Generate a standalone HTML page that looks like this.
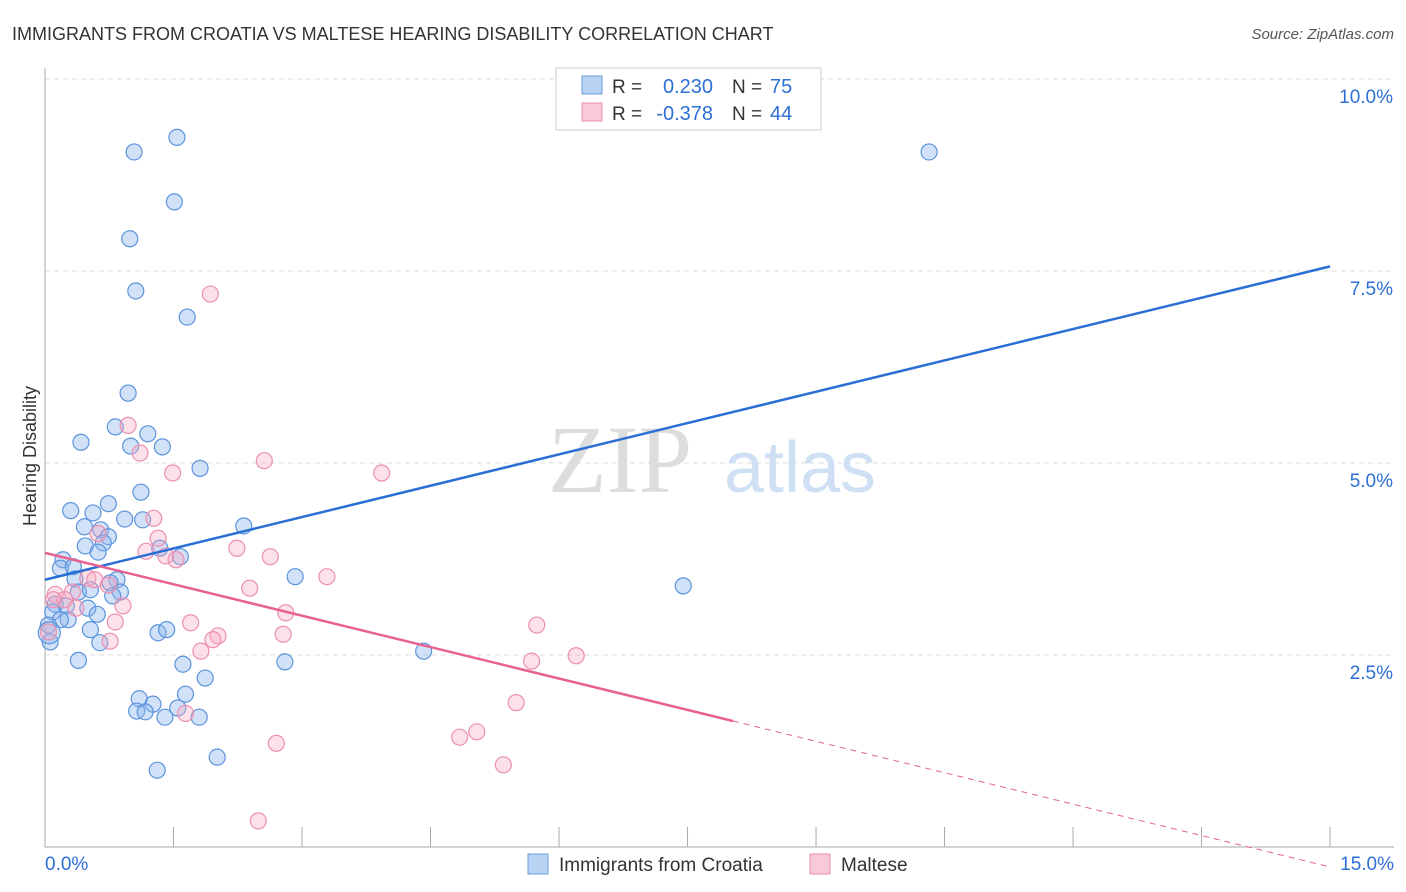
<!DOCTYPE html>
<html><head><meta charset="utf-8"><style>
body{margin:0;background:#fff;font-family:"Liberation Sans",sans-serif}
svg{display:block}
</style></head><body>
<svg id="c" width="1406" height="892" xmlns="http://www.w3.org/2000/svg">
<text x="12" y="40" font-size="18" fill="#333">IMMIGRANTS FROM CROATIA VS MALTESE HEARING DISABILITY CORRELATION CHART</text>
<text x="1394" y="39" font-size="15" fill="#555" font-style="italic" text-anchor="end">Source: ZipAtlas.com</text>
<text x="36" y="456" font-size="18" fill="#333" transform="rotate(-90 36 456)" text-anchor="middle">Hearing Disability</text>
<g id="grid"></g>
<g id="axes"></g>
<text x="620" y="492" font-size="96" fill="#ddd" font-family="Liberation Serif" text-anchor="middle">ZIP</text>
<text x="800" y="492" font-size="72" fill="#cfe0f5" text-anchor="middle">atlas</text>
<g id="pts"></g>
<g id="lines"></g>
<g>
<rect x="556" y="68" width="265" height="62" fill="#fff" stroke="#ccc"/>
<rect x="582" y="76" width="20" height="18" fill="#b9d3f5" stroke="#6a9de0"/>
<rect x="582" y="103" width="20" height="18" fill="#f9c9d7" stroke="#eb93b0"/>
<text x="612" y="93" font-size="19" fill="#333">R =</text>
<text x="713" y="93" font-size="20" fill="#2e6fd6" text-anchor="end">0.230</text>
<text x="732" y="93" font-size="19" fill="#333">N =</text>
<text x="770" y="93" font-size="20" fill="#2e6fd6">75</text>
<text x="612" y="120" font-size="19" fill="#333">R =</text>
<text x="713" y="120" font-size="20" fill="#2e6fd6" text-anchor="end">-0.378</text>
<text x="732" y="120" font-size="19" fill="#333">N =</text>
<text x="770" y="120" font-size="20" fill="#2e6fd6">44</text>
</g>
<g>
<rect x="528" y="854" width="20" height="20" fill="#b9d3f5" stroke="#6a9de0"/>
<text x="559" y="871" font-size="19" fill="#333">Immigrants from Croatia</text>
<rect x="810" y="854" width="20" height="20" fill="#f9c9d7" stroke="#eb93b0"/>
<text x="841" y="871" font-size="19" fill="#333">Maltese</text>
</g>
</svg>
<script>
const yTicks=[2.5,5.0,7.5,10.0];
const yTickLabels=["2.5%","5.0%","7.5%","10.0%"];
const xTicks=[0,1.5,3,4.5,6,7.5,9,10.5,12,13.5,15];
const xEndLabels=["0.0%","15.0%"];
const croatiaX=[1.04,1.54,10.32,1.51,0.99,1.06,1.66,0.97,0.82,0.42,1.20,1.00,1.37,1.81,1.12,0.74,0.30,0.56,0.93,1.14,0.46,0.65,2.32,0.74,0.68,0.47,0.62,0.21,1.34,1.58,0.18,0.33,0.35,2.92,0.84,0.76,0.39,0.53,0.88,0.79,0.12,0.25,0.50,0.09,0.61,0.27,0.18,0.04,0.53,1.32,1.42,0.64,0.06,7.45,4.42,2.80,0.39,1.61,1.87,1.10,1.64,1.26,1.55,1.07,1.17,1.40,1.80,2.01,1.31,0.05];
const croatiaY=[9.05,9.24,9.05,8.40,7.92,7.24,6.90,5.91,5.47,5.27,5.38,5.22,5.21,4.93,4.62,4.47,4.38,4.35,4.27,4.26,4.17,4.13,4.18,4.04,3.96,3.92,3.84,3.74,3.89,3.78,3.63,3.65,3.49,3.52,3.48,3.44,3.32,3.35,3.32,3.27,3.16,3.14,3.11,3.06,3.03,2.96,2.96,2.89,2.83,2.79,2.83,2.66,2.67,3.40,2.55,2.41,2.43,2.38,2.20,1.93,1.99,1.86,1.81,1.77,1.76,1.69,1.69,1.17,1.00,2.79];
const malteseX=[1.93,0.97,1.11,2.56,1.49,3.93,1.27,1.32,0.62,2.24,1.18,1.41,1.53,2.63,3.29,0.50,0.58,0.74,2.39,0.32,0.12,0.23,0.91,0.36,2.81,0.82,1.70,5.74,2.78,2.02,1.96,0.76,0.04,1.82,6.20,5.68,5.50,1.64,5.04,4.84,2.70,5.35,2.49,0.10];
const malteseY=[7.20,5.49,5.13,5.03,4.87,4.87,4.28,4.02,4.08,3.89,3.85,3.79,3.74,3.78,3.52,3.50,3.48,3.41,3.37,3.32,3.29,3.22,3.14,3.11,3.05,2.93,2.92,2.89,2.77,2.75,2.70,2.68,2.80,2.55,2.49,2.42,1.88,1.74,1.50,1.43,1.35,1.07,0.34,3.22];
const blueTrend=[3.48,7.56];
const pinkTrend=[3.83,-0.26];
const pinkSolidEnd=8.03;
const X=v=>45+v*85.67, Y=v=>847-v*76.8;
const NS="http://www.w3.org/2000/svg";
function mk(t,a,p){const e=document.createElementNS(NS,t);for(const k in a)e.setAttribute(k,a[k]);document.getElementById(p).appendChild(e);return e;}
yTicks.forEach((t,i)=>{
 const l=mk('line',{x1:45,x2:1394,y1:Y(t),y2:Y(t),stroke:'#ddd','stroke-dasharray':'5,4'},'grid');
 
 
 const tx=mk('text',{x:1393,y:Y(t)+24,'font-size':19,fill:'#2e6fd6','text-anchor':'end'},'axes');
 tx.textContent=yTickLabels[i];
 
 
});
const topGrid=mk('line',{x1:45,x2:1394,y1:79,y2:79,stroke:'#ddd','stroke-dasharray':'5,4'},'grid');


const ya=mk('line',{x1:45,x2:45,y1:68,y2:847,stroke:'#aaa'},'axes');


const xa=mk('line',{x1:45,x2:1394,y1:847,y2:847,stroke:'#aaa'},'axes');


xTicks.forEach(t=>{
 const l=mk('line',{x1:X(t),x2:X(t),y1:827,y2:847,stroke:'#aaa'},'axes');
 
 
});
[[0,'start',45],[15,'end',1394]].forEach((d,i)=>{
 const tx=mk('text',{x:d[2],y:870,'font-size':19,fill:'#2e6fd6','text-anchor':d[1]},'axes');
 tx.textContent=xEndLabels[i];
 
 
});
croatiaX.forEach((x,i)=>{
 const c=mk('circle',{cx:X(x),cy:Y(croatiaY[i]),r:i==croatiaX.length-1?11:8,fill:'rgba(140,182,238,0.4)',stroke:'#5b93dd','stroke-width':1.2},'pts');
 
 
});
malteseX.forEach((x,i)=>{
 const c=mk('circle',{cx:X(x),cy:Y(malteseY[i]),r:8,fill:'rgba(245,170,195,0.35)',stroke:'#ec8fae','stroke-width':1.2},'pts');
 
 
});
const bl=mk('line',{x1:X(0),y1:Y(blueTrend[0]),x2:X(15),y2:Y(blueTrend[1]),stroke:'#2a6fd4','stroke-width':2.5},'lines');


const pAt=x=>pinkTrend[0]+(pinkTrend[1]-pinkTrend[0])*x/15;
const pl=mk('line',{x1:X(0),y1:Y(pAt(0)),x2:X(pinkSolidEnd),y2:Y(pAt(pinkSolidEnd)),stroke:'#e8628f','stroke-width':2.5},'lines');


const pd=mk('line',{x1:X(pinkSolidEnd),y1:Y(pAt(pinkSolidEnd)),x2:X(15),y2:Y(pAt(15)),stroke:'#e8628f','stroke-width':1,'stroke-dasharray':'6,5'},'lines');


</script>
</body></html>
